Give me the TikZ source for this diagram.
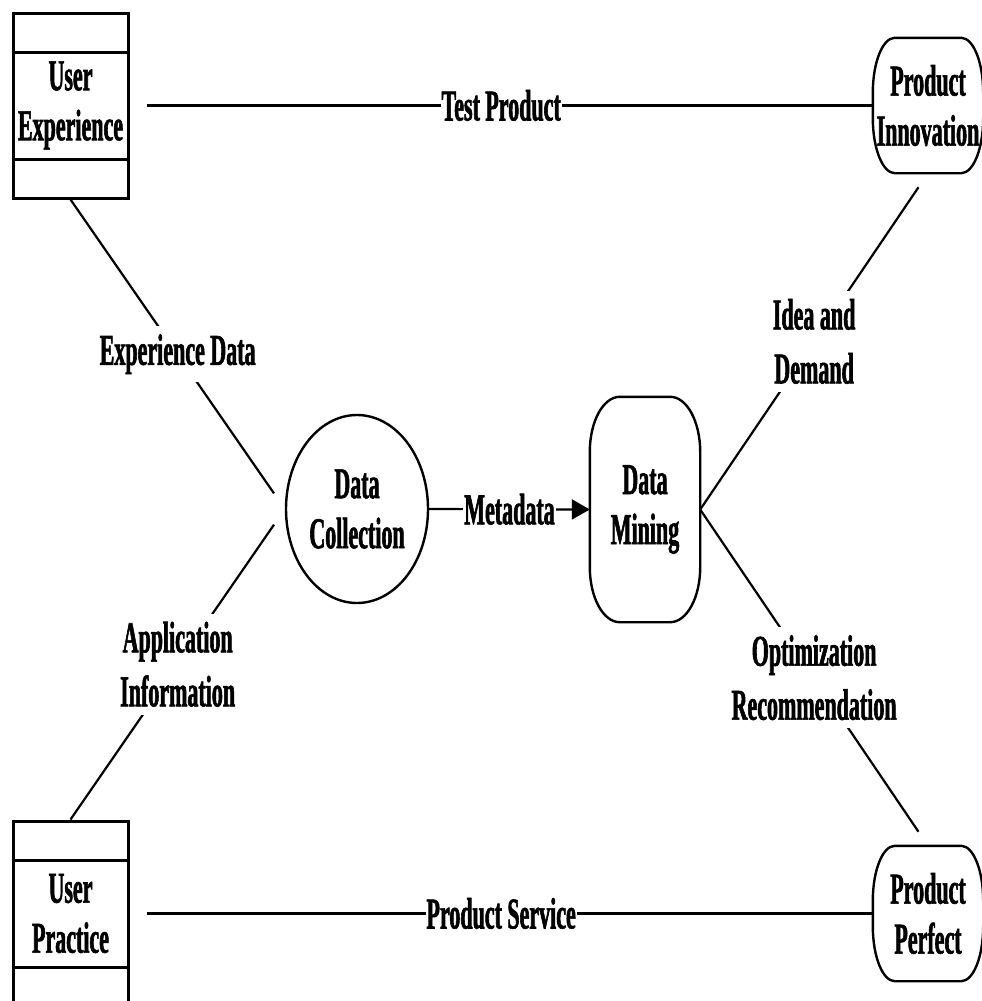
\documentclass[tikz,border=0pt]{standalone}
\usepackage{fontspec}
\setmainfont{Liberation Serif}[FakeStretch=0.5, BoldFeatures={FakeBold=1.3}]
\usetikzlibrary{shapes.geometric,arrows.meta}
\newcommand\ellrect[3]{%
  \draw[line width=2.4pt] ([xshift=#2]#1.north west) -- ([xshift=-#2]#1.north east)
    arc[start angle=90,end angle=0,x radius=#2,y radius=#3]
    -- ([yshift=#3]#1.south east)
    arc[start angle=0,end angle=-90,x radius=#2,y radius=#3]
    -- ([xshift=#2]#1.south west)
    arc[start angle=270,end angle=180,x radius=#2,y radius=#3]
    -- ([yshift=-#3]#1.north west)
    arc[start angle=180,end angle=90,x radius=#2,y radius=#3] -- cycle;}
\begin{document}
\begin{tikzpicture}[x=1pt,y=1pt,
  every node/.style={font=\bfseries\fontsize{44}{50}\selectfont, align=center, inner sep=0pt},
  store/.style={draw, line width=3pt, minimum width=115pt, minimum height=185pt},
  shp/.style={minimum width=110pt, minimum height=135pt},
  conn/.style={line width=2.2pt},
  lbl/.style={fill=white, inner xsep=1pt, inner ysep=8pt, font=\bfseries\fontsize{44}{54}\selectfont}]
\useasboundingbox (0,0) rectangle (982,-1001);
% nodes
\node[store] (ue) at (70.5,-105.5) {User\\Experience};
\node[store] (up) at (70.5,-913.5) {User\\Practice};
\node[shp] (pi) at (928,-105.5) {Product\\Innovation};
\node[shp] (pp) at (928,-913.5) {Product\\Perfect};
\node[draw, ellipse, line width=2.4pt, minimum width=142pt, minimum height=188pt] (dc) at (357,-509) {Data\\Collection};
\node[minimum width=110pt, minimum height=225pt] (dm) at (645,-509.5) {Data\\Mining};
% store inner lines
\foreach \n in {ue,up} {
  \draw[line width=3pt] ([yshift=53.5pt]\n.west) -- ([yshift=53.5pt]\n.east);
  \draw[line width=3pt] ([yshift=-53.5pt]\n.west) -- ([yshift=-53.5pt]\n.east);
}
% rounded shapes
\ellrect{pi}{22pt}{55pt}
\ellrect{pp}{22pt}{55pt}
\ellrect{dm}{30pt}{55pt}
% connectors
\draw[conn, shorten <=17pt] (ue.east) -- node[lbl]{Test Product} (pi.west);
\draw[conn, shorten <=17pt] (up.east) -- node[lbl]{Product Service} (pp.west);
\draw[conn, shorten >=19pt] (ue.south) -- node[lbl]{Experience Data} (dc.west);
\draw[conn, shorten <=19pt] (dc.west) -- node[lbl]{Application\\Information} (up.north);
\draw[conn, shorten >=17pt] (dm.east) -- node[lbl]{Idea and\\Demand} (pi.south);
\draw[conn, shorten >=17pt] (dm.east) -- node[lbl]{Optimization\\Recommendation} (pp.north);
\draw[conn, -{Triangle[length=18pt,width=20pt]}] (dc.east) -- node[lbl]{Metadata} (dm.west);
\end{tikzpicture}
\end{document}
